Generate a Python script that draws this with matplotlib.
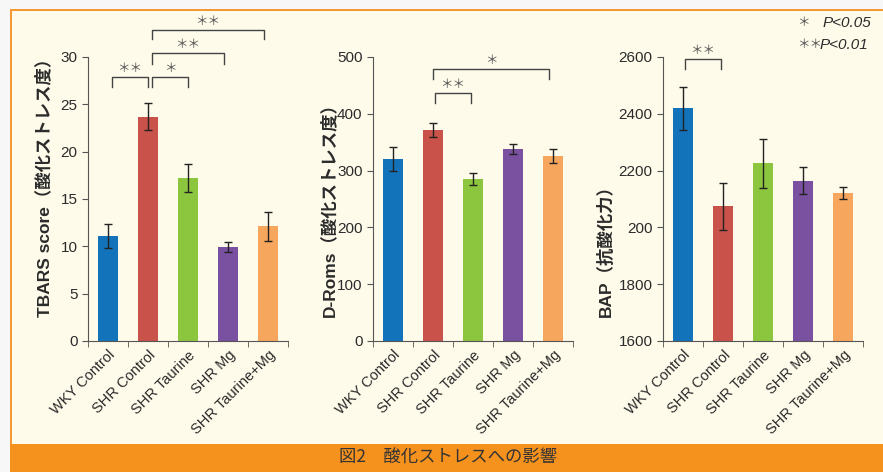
import numpy as np
import matplotlib
matplotlib.use('Agg')
import matplotlib.pyplot as plt
from matplotlib.patches import Rectangle

plt.rcParams['font.family'] = ['Liberation Sans', 'Noto Sans CJK JP', 'DejaVu Sans']
plt.rcParams['axes.unicode_minus'] = False

# データ
groups = ['WKY Control', 'SHR Control', 'SHR Taurine', 'SHR Mg', 'SHR Taurine+Mg']
colors = ['#1273BA', '#C9524A', '#8CC63F', '#7A50A0', '#F7A65E']

tbars_mean = [11.1, 23.7, 17.2, 9.9, 12.1]
tbars_err = [1.3, 1.4, 1.5, 0.55, 1.5]
droms_mean = [320, 371, 285, 338, 326]
droms_err = [21, 12, 11, 8, 12]
bap_mean = [2419, 2074, 2226, 2164, 2122]
bap_err = [75, 82, 86, 47, 22]

# 有意差の括弧: (開始, 終了, 高さ, 脚の長さ, 記号)
tbars_sig = [(0.1, 1, 27.9, 1.1, '＊＊'), (1.1, 2, 27.9, 1.1, '＊'),
             (1.1, 2.9, 30.4, 1.1, '＊＊'), (1.1, 3.9, 32.9, 1.0, '＊＊')]
droms_sig = [(1.05, 1.95, 437, 18, '＊＊'), (1.0, 3.9, 479, 18, '＊')]
bap_sig = [(0.05, 0.95, 2592, 35, '＊＊')]

bg = '#FEFBEA'
txt = '#2B2B2B'
fig = plt.figure(figsize=(8.83, 4.72), dpi=100)
fig.patch.set_facecolor('#F7F7F7')

# 枠と背景
fig.patches.append(Rectangle((11/883, 0), 1, 1 - 10/472, transform=fig.transFigure,
                             facecolor=bg, edgecolor='none', zorder=-3))
fig.patches.append(Rectangle((10/883, 1 - 11/472), 1, 2/472, transform=fig.transFigure,
                             facecolor='#F59A33', edgecolor='none', zorder=-2))
fig.patches.append(Rectangle((10/883, 0), 2/883, 1 - 9/472, transform=fig.transFigure,
                             facecolor='#F59A33', edgecolor='none', zorder=-2))
fig.patches.append(Rectangle((10/883, 0), 1, 28/472, transform=fig.transFigure,
                             facecolor='#F5921E', edgecolor='none', zorder=-1))
fig.text(448/883, 14/472, '図2　酸化ストレスへの影響', ha='center', va='center',
         fontsize=12.5, color='#333333', family=['Noto Sans CJK JP'])

panels = [
    (88, tbars_mean, tbars_err, (0, 30), [0, 5, 10, 15, 20, 25, 30], None,
     'TBARS score（酸化ストレス度）', tbars_sig, -0.22),
    (373, droms_mean, droms_err, (0, 500), [0, 100, 200, 300, 400, 500], None,
     'D-Roms（酸化ストレス度）', droms_sig, -0.22),
    (663, bap_mean, bap_err, (1600, 2600), [1600, 1800, 2000, 2200, 2400, 2600],
     ['1600', '1800', '200', '2200', '2400', '2600'], 'BAP（抗酸化力）', bap_sig, -0.29),
]

x = np.arange(len(groups))
for left, mean, err, ylim, yticks, ylabels, ylab, sigs, labx in panels:
    ax = fig.add_axes([left/883, 1 - 341/472, 200/883, 284/472])
    ax.set_facecolor('none')
    ax.bar(x, np.array(mean) - ylim[0], bottom=ylim[0], width=0.5, color=colors,
           yerr=err, error_kw=dict(ecolor='#222222', elinewidth=1, capsize=3, capthick=1))
    ax.set_xlim(-0.5, 4.5)
    ax.set_ylim(*ylim)
    ax.set_yticks(yticks)
    if ylabels:
        ax.set_yticklabels(ylabels)
    ax.set_xticks(x)
    ax.set_xticklabels(groups, rotation=45, ha='right', rotation_mode='anchor',
                       fontsize=10.5, color=txt)
    ax.set_xticks(np.arange(-0.5, 5, 1), minor=True)
    ax.tick_params(axis='x', which='major', length=0, pad=5)
    ax.tick_params(axis='x', which='minor', length=4, color='#555555')
    ax.tick_params(axis='y', length=4, color='#555555', labelsize=11, labelcolor=txt)
    for s in ['top', 'right']:
        ax.spines[s].set_visible(False)
    for s in ['left', 'bottom']:
        ax.spines[s].set_color('#555555')
    ax.set_ylabel(ylab, fontsize=12.5, fontweight='bold', color=txt, loc='bottom')
    ax.yaxis.label.set_va('center')
    ax.yaxis.set_label_coords(labx, 24/284)

    for x0, x1, h, leg, mark in sigs:
        ax.plot([x0, x0, x1, x1], [h - leg, h, h, h - leg], color='#444444',
                lw=1, clip_on=False)
        ax.text((x0 + x1) / 2, h + leg * 0.2, mark, ha='center', va='bottom',
                fontsize=9, color='#555555', family=['Noto Sans CJK JP'])

fig.text(797/883, 1 - 23/472, '＊', ha='left', va='center', fontsize=9,
         color='#555555', family=['Noto Sans CJK JP'])
fig.text(823/883, 1 - 23/472, 'P<0.05', ha='left', va='center', fontsize=11,
         color=txt, style='italic')
fig.text(797/883, 1 - 45/472, '＊＊', ha='left', va='center', fontsize=9,
         color='#555555', family=['Noto Sans CJK JP'])
fig.text(820/883, 1 - 45/472, 'P<0.01', ha='left', va='center', fontsize=11,
         color=txt, style='italic')

fig.savefig('out.png', dpi=100, facecolor=fig.get_facecolor())
